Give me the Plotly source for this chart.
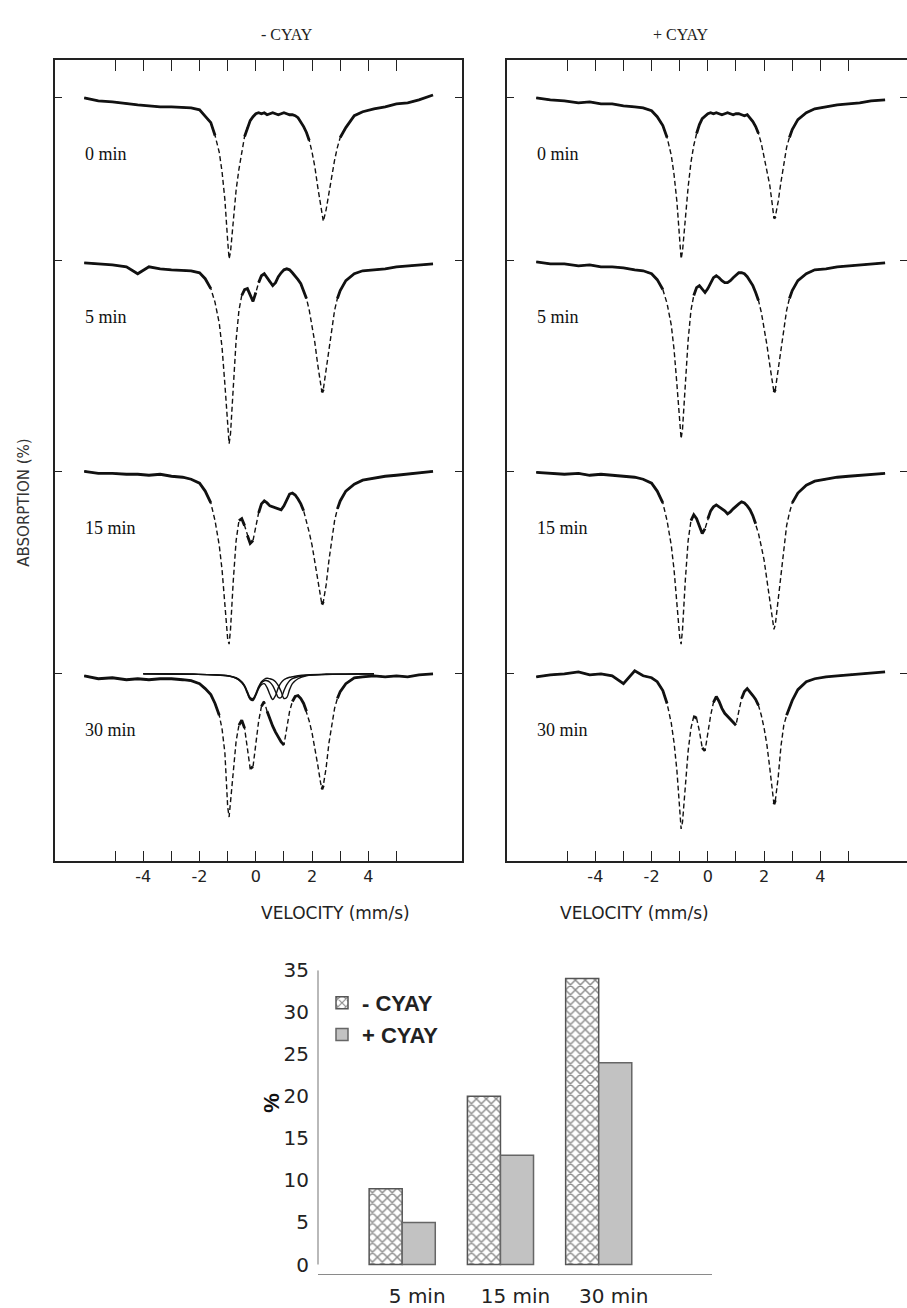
import plotly.graph_objects as go

# Velocity channels (mm/s) shared by all spectra
velocity = [-6.1, -5.6, -5.1, -4.6, -4.2, -3.8, -3.4, -3.0, -2.6, -2.3,
            -2.0, -1.8, -1.6, -1.45, -1.3, -1.2, -1.1, -1.0, -0.95, -0.9,
            -0.8, -0.7, -0.6, -0.5, -0.4, -0.3, -0.2, -0.1, 0.0, 0.1,
            0.2, 0.3, 0.4, 0.5, 0.6, 0.7, 0.8, 0.9, 1.0, 1.1,
            1.2, 1.3, 1.4, 1.5, 1.6, 1.7, 1.8, 1.9, 2.0, 2.1,
            2.2, 2.3, 2.35, 2.4, 2.5, 2.6, 2.7, 2.8, 2.9, 3.0,
            3.2, 3.5, 3.8, 4.2, 4.6, 5.0, 5.4, 5.8, 6.3]

times = ["0 min", "5 min", "15 min", "30 min"]

# Absorption (%) without CYAY
minus_0 = [0.0, 0.3, 0.4, 0.6, 0.7, 0.8, 0.9, 0.9, 1.0, 1.0,
           1.2, 1.8, 2.5, 3.8, 5.5, 7.5, 10.3, 14.5, 16.3, 15.6,
           12.3, 9.3, 7.2, 5.3, 3.9, 3.0, 2.3, 1.9, 1.6, 1.5,
           1.6, 1.5, 1.7, 1.6, 1.5, 1.6, 1.7, 1.6, 1.5, 1.6,
           1.7, 1.7, 1.8, 2.0, 2.4, 2.9, 3.5, 4.3, 5.5, 7.0,
           9.0, 11.0, 12.0, 12.5, 11.3, 9.5, 8.0, 6.3, 5.0, 4.0,
           3.0, 1.8, 1.4, 1.1, 0.9, 0.6, 0.5, 0.2, -0.3]
minus_5 = [0.2, 0.3, 0.4, 0.6, 1.3, 0.6, 0.8, 0.9, 1.0, 1.0,
           1.2, 1.8, 2.8, 4.2, 6.3, 8.8, 12.5, 17.0, 18.5, 17.5,
           12.5, 8.0, 5.0, 3.5, 2.9, 2.8, 3.4, 4.1, 3.2, 2.2,
           1.5, 1.3, 1.7, 2.2, 2.5, 2.2, 1.6, 1.2, 0.9, 0.8,
           0.9, 1.2, 1.5, 1.9, 2.3, 3.0, 3.8, 5.0, 6.5, 8.3,
           10.5, 12.5, 13.3, 13.0, 11.0, 8.8, 6.8, 5.0, 3.8, 3.0,
           2.0, 1.3, 1.0, 0.9, 0.8, 0.6, 0.5, 0.4, 0.3]
minus_15 = [0.0, 0.2, 0.2, 0.3, 0.3, 0.4, 0.3, 0.5, 0.6, 0.8,
            1.2, 2.0, 3.2, 5.0, 7.5, 10.0, 13.5, 17.0, 17.5, 16.0,
            11.0, 7.0, 5.0, 4.8, 5.5, 6.5, 7.3, 7.0, 5.5, 4.2,
            3.3, 3.0, 3.2, 3.5, 3.6, 3.7, 3.8, 3.9, 3.5, 2.8,
            2.3, 2.2, 2.4, 2.8, 3.3, 4.0, 5.0, 6.2, 7.5, 9.2,
            11.2, 13.0, 13.5, 13.2, 11.5, 9.0, 6.8, 5.0, 3.8, 3.0,
            2.0, 1.3, 0.9, 0.7, 0.5, 0.4, 0.3, 0.2, 0.0]
minus_30 = [0.2, 0.5, 0.4, 0.6, 0.5, 0.6, 0.5, 0.5, 0.6, 0.7,
            1.0, 1.5, 2.1, 3.0, 4.2, 5.6, 8.0, 13.5, 14.5, 13.0,
            9.5, 6.8, 5.2, 4.7, 5.5, 7.5, 9.6, 9.4, 7.0, 4.8,
            3.3, 2.8, 3.8, 4.6, 5.3, 5.9, 6.4, 6.9, 7.2, 5.5,
            3.8, 2.8, 2.3, 2.2, 2.5, 3.0, 3.8, 4.8, 6.0, 7.5,
            9.2, 11.0, 11.7, 11.3, 9.5, 7.0, 5.0, 3.5, 2.5, 1.8,
            1.0, 0.4, 0.3, 0.2, 0.3, 0.2, 0.3, 0.1, 0.0]

# Absorption (%) with CYAY
plus_0 = [0.0, 0.2, 0.3, 0.5, 0.4, 0.6, 0.6, 0.8, 0.9, 1.0,
          1.3, 1.9, 2.8, 4.0, 5.8, 7.8, 10.5, 14.5, 16.3, 15.5,
          12.0, 9.0, 6.5, 4.8, 3.6, 2.7, 2.1, 1.8, 1.6, 1.5,
          1.6, 1.5, 1.6, 1.7, 1.6, 1.5, 1.6, 1.7, 1.6, 1.6,
          1.7, 1.8, 1.7, 2.0, 2.4, 2.9, 3.6, 4.6, 6.0, 7.3,
          8.8, 11.0, 12.2, 12.0, 10.5, 8.5, 6.5, 5.0, 4.0, 3.2,
          2.2, 1.5, 1.1, 0.9, 0.7, 0.6, 0.5, 0.3, 0.2]
plus_5 = [0.1, 0.3, 0.3, 0.5, 0.4, 0.6, 0.6, 0.7, 0.9, 1.0,
          1.3, 1.9, 2.9, 4.3, 6.5, 9.0, 12.5, 16.5, 18.0, 17.0,
          12.5, 8.0, 5.0, 3.5, 2.7, 2.5, 2.8, 3.2, 2.8, 2.2,
          1.7, 1.5, 1.7, 2.0, 2.2, 2.2, 2.0, 1.7, 1.4, 1.2,
          1.2, 1.3, 1.6, 2.0, 2.5, 3.2, 4.0, 5.2, 6.7, 8.5,
          10.5, 12.5, 13.3, 13.0, 11.0, 8.8, 6.8, 5.0, 3.8, 3.0,
          2.0, 1.3, 0.9, 0.8, 0.6, 0.5, 0.4, 0.3, 0.2]
plus_15 = [0.1, 0.2, 0.3, 0.2, 0.4, 0.3, 0.4, 0.5, 0.6, 0.8,
           1.2, 2.0, 3.2, 5.0, 7.5, 10.0, 13.5, 16.8, 17.5, 16.0,
           11.0, 7.0, 5.0, 4.4, 4.8, 5.6, 6.3, 5.8, 4.8, 4.0,
           3.6, 3.4, 3.6, 3.8, 4.0, 4.3, 4.1, 3.8, 3.5, 3.3,
           3.1, 3.2, 3.5, 3.9, 4.5, 5.3, 6.3, 7.6, 9.0, 11.0,
           13.0, 15.0, 16.0, 15.5, 13.0, 10.0, 7.5, 5.5, 4.2, 3.2,
           2.2, 1.4, 1.0, 0.8, 0.6, 0.5, 0.4, 0.3, 0.2]
plus_30 = [0.3, 0.1, 0.0, -0.2, 0.1, 0.0, 0.2, 1.0, -0.3, 0.2,
           0.4, 0.8, 1.7, 3.0, 5.0, 7.0, 9.8, 13.8, 15.7, 15.0,
           11.0, 7.8, 5.5, 4.3, 4.5, 5.8, 7.5, 7.8, 6.0, 4.2,
           2.9, 2.3, 2.8, 3.5, 4.0, 4.3, 4.7, 5.0, 5.2, 3.8,
           2.5, 1.8, 1.5, 1.8, 2.2, 2.6, 3.2, 4.2, 5.5, 7.2,
           9.5, 12.3, 13.2, 12.8, 10.5, 7.3, 5.2, 4.2, 3.4, 2.7,
           1.6, 0.8, 0.5, 0.3, 0.2, 0.1, 0.0, -0.1, -0.2]

# Fitted sub-spectra of the 30 min sample without CYAY
fit_velocity = [-4.0, -3.0, -2.2, -1.5, -1.0, -0.7, -0.5, -0.4, -0.3, -0.2,
                -0.1, 0.0, 0.1, 0.2, 0.3, 0.4, 0.5, 0.6, 0.7, 0.8,
                0.9, 1.0, 1.1, 1.2, 1.3, 1.5, 1.8, 2.5, 3.2, 4.2]
fit_1 = [0.0, 0.02, 0.05, 0.1, 0.2, 0.45, 0.9, 1.3, 2.0, 2.6,
         2.7, 2.2, 1.5, 1.1, 1.0, 1.4, 2.1, 2.6, 2.2, 1.4,
         0.9, 0.6, 0.45, 0.35, 0.3, 0.2, 0.12, 0.05, 0.03, 0.0]
fit_2 = [0.0, 0.02, 0.05, 0.1, 0.2, 0.45, 0.85, 1.25, 1.9, 2.5,
         2.6, 2.1, 1.4, 0.9, 0.7, 0.7, 0.85, 1.2, 1.8, 2.4,
         2.4, 1.7, 1.1, 0.7, 0.5, 0.3, 0.15, 0.05, 0.03, 0.0]
fit_3 = [0.0, 0.02, 0.05, 0.1, 0.2, 0.4, 0.8, 1.2, 1.8, 2.4,
         2.5, 2.0, 1.3, 0.8, 0.55, 0.45, 0.5, 0.6, 0.8, 1.2,
         1.8, 2.5, 2.4, 1.6, 1.0, 0.5, 0.2, 0.07, 0.03, 0.0]

# Relative amount of the new component (%)
bar_labels = ["5 min", "15 min", "30 min"]
pct_minus = [9, 20, 34]
pct_plus = [5, 13, 24]

# ---- layout constants ----
W, H = 907, 1308
offsets = [0.0, 16.5, 37.8, 58.3]        # vertical stacking of spectra (%)
PX_PER_V = 28.13
PX_PER_PCT = 10.0
STEEP = 3.2


def px(x):
    return x / W


def py(y):
    return 1 - y / H


fig = go.Figure()


def add_spectrum(a, off, xa, ya):
    y = [-(val + off) for val in a]
    # thin dashed trace: where points are sparse the curve looks broken
    fig.add_trace(go.Scatter(x=velocity, y=y, mode="lines", xaxis=xa, yaxis=ya,
                             line=dict(color="#111", width=1.4, dash="5px,3px"),
                             showlegend=False, hoverinfo="skip"))
    sx, sy = [], []
    prev_flat = False
    for i in range(len(velocity) - 1):
        slope = abs(a[i + 1] - a[i]) * PX_PER_PCT / ((velocity[i + 1] - velocity[i]) * PX_PER_V)
        flat = slope < STEEP
        if flat:
            if not prev_flat:
                sx.append(velocity[i]); sy.append(y[i])
            sx.append(velocity[i + 1]); sy.append(y[i + 1])
        elif prev_flat:
            sx.append(None); sy.append(None)
        prev_flat = flat
    fig.add_trace(go.Scatter(x=sx, y=sy, mode="lines", xaxis=xa, yaxis=ya,
                             line=dict(color="#111", width=2.8),
                             showlegend=False, hoverinfo="skip"))


for a, off in zip([minus_0, minus_5, minus_15, minus_30], offsets):
    add_spectrum(a, off, "x", "y")
for a, off in zip([plus_0, plus_5, plus_15, plus_30], offsets):
    add_spectrum(a, off, "x2", "y2")

for comp in [fit_1, fit_2, fit_3]:
    fig.add_trace(go.Scatter(x=fit_velocity, y=[-(c + offsets[3]) for c in comp],
                             mode="lines", line=dict(color="#111", width=1.4, shape="spline"),
                             xaxis="x", yaxis="y", showlegend=False, hoverinfo="skip"))

# empty trace so the right-hand tick axis of the second panel is drawn
fig.add_trace(go.Scatter(x=[], y=[], xaxis="x2", yaxis="y4", showlegend=False,
                         hoverinfo="skip"))

# ---- bar chart ----
fig.add_trace(go.Bar(x=bar_labels, y=pct_minus, name="- CYAY", xaxis="x3", yaxis="y3",
                     marker=dict(color="white",
                                 pattern=dict(shape="x", fgcolor="#1a1a1a", bgcolor="white",
                                              size=7, solidity=0.38),
                                 line=dict(color="#555", width=1.5))))
fig.add_trace(go.Bar(x=bar_labels, y=pct_plus, name="+ CYAY", xaxis="x3", yaxis="y3",
                     marker=dict(color="#c2c2c2", line=dict(color="#666", width=1.5))))

vel_ticks = [-5, -4, -3, -2, -1, 0, 1, 2, 3, 4, 5]
vel_text = ["" if t % 2 else str(t) for t in vel_ticks]

spec_x = dict(range=[-7.14, 7.33], tickvals=vel_ticks, ticktext=vel_text,
              ticks="inside", ticklen=11, tickwidth=1.3, tickcolor="#222",
              showline=True, linecolor="#222", linewidth=1.6, mirror="ticks",
              showgrid=False, zeroline=False,
              tickfont=dict(family="DejaVu Sans", size=16, color="#222"),
              ticklabelstandoff=0)
spec_y_range = [-77.3, 3.8]
spec_y = dict(domain=[py(860), py(49)], range=spec_y_range,
              tickvals=[-o for o in offsets], ticks="inside", ticklen=7,
              tickwidth=1.3, tickcolor="#222", showticklabels=False,
              showline=True, linecolor="#222", linewidth=1.6,
              showgrid=False, zeroline=False)

fig.update_layout(
    width=W, height=H, margin=dict(l=0, r=0, t=0, b=0),
    paper_bgcolor="white", plot_bgcolor="white",
    xaxis=dict(domain=[px(55), px(462)], anchor="y", **spec_x),
    yaxis=dict(anchor="x", mirror="ticks", **spec_y),
    xaxis2=dict(domain=[px(507), 1.0], anchor="y2",
                **{**spec_x, "range": [-7.14, -7.14 + 400 / PX_PER_V]}),
    yaxis2=dict(anchor="x2", mirror=False, **spec_y),
    yaxis4=dict(overlaying="y2", side="right", anchor="x2", range=spec_y_range,
                tickvals=[-o for o in offsets], ticks="inside", ticklen=7,
                tickwidth=1.3, tickcolor="#222", showticklabels=False,
                showline=False, showgrid=False, zeroline=False),
    xaxis3=dict(domain=[px(318), px(712)], anchor="y3", type="category",
                range=[-0.857, 3.153], showline=True, linecolor="#8a8a8a",
                linewidth=1.2, ticks="", showgrid=False, zeroline=False,
                tickfont=dict(family="DejaVu Sans", size=20, color="#222"),
                ticklabelshift=15, ticklabelstandoff=4),
    yaxis3=dict(domain=[py(1278), py(970)], anchor="x3", range=[-1.17, 35],
                tickvals=[0, 5, 10, 15, 20, 25, 30, 35], showline=False,
                ticks="", showgrid=False, zeroline=False,
                tickfont=dict(family="DejaVu Sans", size=20, color="#222"),
                ticklabelstandoff=8),
    barmode="group", bargap=0.327, bargroupgap=0,
    showlegend=True,
    legend=dict(x=px(322), y=py(982), xanchor="left", yanchor="top",
                bgcolor="rgba(0,0,0,0)",
                font=dict(family="Liberation Sans", size=22, color="#222", weight="bold")),
)

# y axis line of the bar chart (stops at zero)
fig.add_shape(type="line", xref="x3 domain", yref="y3", x0=0, x1=0, y0=0, y1=35,
              line=dict(color="#8a8a8a", width=1.2))

ann = []
for title, cx in [("- CYAY", 258.5), ("+ CYAY", 710.5)]:
    ann.append(dict(text=title, x=px(cx), y=py(23), xref="paper", yref="paper",
                    yanchor="middle", showarrow=False,
                    font=dict(family="Liberation Serif", size=16, color="#222")))
    ann.append(dict(text="VELOCITY (mm/s)", x=px(cx), y=py(912), xref="paper", yref="paper",
                    yanchor="middle", showarrow=False,
                    font=dict(family="DejaVu Sans", size=17, color="#222")))
for xa, ya in [("x", "y"), ("x2", "y2")]:
    for t, off in zip(times, offsets):
        ann.append(dict(text=t, x=-6.14, y=-(off + 5.7), xref=xa, yref=ya,
                        xanchor="left", showarrow=False,
                        font=dict(family="Liberation Serif", size=18, color="#111")))
ann.append(dict(text="ABSORPTION (%)", x=px(13), y=py(430), xref="paper", yref="paper",
                textangle=-90, showarrow=False,
                font=dict(family="DejaVu Sans", size=15, color="#333")))
ann.append(dict(text="%", x=px(257), y=py(1117), xref="paper", yref="paper",
                textangle=-90, showarrow=False,
                font=dict(family="Liberation Sans", size=22, color="#111", weight="bold")))
fig.update_layout(annotations=ann)

fig.write_html("out.html")
